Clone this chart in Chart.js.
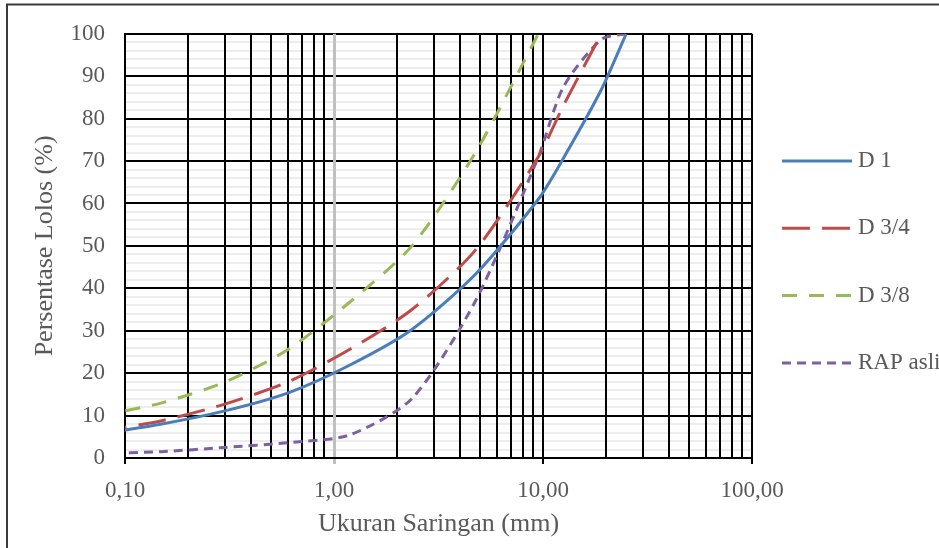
<!DOCTYPE html>
<html>
<head>
<meta charset="utf-8">
<script src="https://cdn.jsdelivr.net/npm/chart.js@4.4.0/dist/chart.umd.min.js"></script>
<style>
  html, body { margin: 0; padding: 0; background: #fff; }
</style>
</head>
<body>
<canvas id="myChart" width="939" height="548"></canvas>
<script>
// sieve sizes (mm) and percent passing for each mix
var sieves = [0.075, 0.15, 0.3, 0.6, 1.18, 2.36, 4.75, 9.5, 12.5, 19, 25];
var d1    = [5.6, 8.0, 11.1, 15.3, 21.8, 30.3, 43.3, 61.0, 70.6, 86.8, 100];
var d34   = [6.2, 8.8, 12.7, 17.9, 25.5, 35.0, 49.0, 71.0, 83.0, 100, null];
var d38   = [9.9, 13.0, 17.9, 25.5, 36.6, 50.0, 72.0, 100, null, null, null];
var rap   = [1.0, 1.5, 2.5, 3.6, 5.4, 14.0, 37.0, 71.0, 87.4, 98.7, 100];

var seriesNames = ["D 1", "D 3/4", "D 3/8", "RAP asli"];
var xTickValues = [0.1, 1, 10, 100];
var xTickLabels = ["0,10", "1,00", "10,00", "100,00"];
var yTickLabels = [0, 10, 20, 30, 40, 50, 60, 70, 80, 90, 100];

var serif = '"Liberation Serif", "Times New Roman", serif';
var textColor = "#595959";

function points(values) {
  var pts = [];
  for (var i = 0; i < sieves.length; i++) {
    if (values[i] !== null) pts.push({x: sieves[i], y: values[i]});
  }
  return pts;
}

function isDecade(v) {
  for (var i = 0; i < xTickValues.length; i++) {
    if (Math.abs(v - xTickValues[i]) < 1e-9) return true;
  }
  return false;
}

var frame = {
  id: "frame",
  afterDraw: function(chart) {
    var ctx = chart.ctx;
    ctx.save();
    ctx.strokeStyle = "#3a3a3a";
    ctx.lineWidth = 2;
    ctx.beginPath();
    ctx.moveTo(7, chart.height + 5);
    ctx.lineTo(7, 4.5);
    ctx.lineTo(chart.width + 5, 4.5);
    ctx.stroke();
    ctx.restore();
  }
};

var sideLegend = {
  id: "sideLegend",
  afterDraw: function(chart) {
    var ctx = chart.ctx;
    ctx.save();
    chart.data.datasets.forEach(function(ds, i) {
      var y = 161 + i * 67.3;
      ctx.strokeStyle = ds.borderColor;
      ctx.lineWidth = 3;
      ctx.lineCap = "butt";
      ctx.setLineDash(ds.borderDash || []);
      ctx.beginPath();
      ctx.moveTo(782, y);
      ctx.lineTo(852, y);
      ctx.stroke();
      ctx.setLineDash([]);
      ctx.fillStyle = textColor;
      ctx.font = "23px " + serif;
      ctx.textBaseline = "middle";
      ctx.textAlign = "left";
      ctx.fillText(ds.label, 858, y);
    });
    ctx.restore();
  }
};

new Chart("myChart", {
  type: "line",
  data: {
    datasets: [
      { label: seriesNames[0], data: points(d1), borderColor: "#4a7ebb", borderWidth: 3 },
      { label: seriesNames[1], data: points(d34), borderColor: "#be4b48", borderWidth: 3, borderDash: [28, 12] },
      { label: seriesNames[2], data: points(d38), borderColor: "#98b954", borderWidth: 3, borderDash: [15, 12] },
      { label: seriesNames[3], data: points(rap), borderColor: "#7d60a0", borderWidth: 3, borderDash: [9, 6] }
    ]
  },
  options: {
    responsive: false,
    animation: false,
    devicePixelRatio: 1,
    layout: { padding: { left: 0, top: 31, right: 187, bottom: 0 } },
    elements: { point: { radius: 0 }, line: { tension: 0.25 } },
    plugins: { legend: { display: false }, tooltip: { enabled: false } },
    scales: {
      x: {
        type: "logarithmic",
        min: 0.1,
        max: 100,
        afterBuildTicks: function(scale) {
          var t = [];
          for (var d = 0; d < xTickValues.length - 1; d++) {
            for (var i = 1; i < 10; i++) t.push({ value: xTickValues[d] * i });
          }
          t.push({ value: xTickValues[xTickValues.length - 1] });
          scale.ticks = t;
        },
        afterFit: function(scale) { scale.height = 90; },
        ticks: {
          autoSkip: false,
          maxRotation: 0,
          padding: 13,
          color: textColor,
          font: { family: serif, size: 23 },
          callback: function(value) {
            for (var i = 0; i < xTickValues.length; i++) {
              if (Math.abs(value - xTickValues[i]) < 1e-9) return xTickLabels[i];
            }
            return "";
          }
        },
        grid: {
          z: -1,
          color: function(c) { return c.tick && Math.abs(c.tick.value - 1) < 1e-9 ? "#c0c0c0" : "#000"; },
          lineWidth: function(c) { return c.tick && Math.abs(c.tick.value - 1) < 1e-9 ? 3 : 2; },
          tickLength: 6,
          tickColor: function(c) {
            if (!c.tick || !isDecade(c.tick.value)) return "rgba(0,0,0,0)";
            return Math.abs(c.tick.value - 1) < 1e-9 ? "#c0c0c0" : "#000";
          }
        },
        border: { color: "#000", width: 2 },
        title: {
          display: true,
          text: "Ukuran Saringan (mm)",
          color: textColor,
          font: { family: serif, size: 26 },
          padding: { top: 0, bottom: 8 }
        }
      },
      y: {
        min: 0,
        max: 100,
        afterFit: function(scale) { scale.width = 125; },
        ticks: {
          stepSize: 2,
          autoSkip: false,
          padding: 20,
          color: textColor,
          font: { family: serif, size: 23 },
          callback: function(value) {
            return yTickLabels.indexOf(value) >= 0 ? String(value) : "";
          }
        },
        grid: {
          z: -2,
          drawTicks: false,
          color: function(c) { return c.tick && c.tick.value % 10 === 0 ? "#000" : "#ededed"; },
          lineWidth: 2
        },
        border: { color: "#000", width: 2 },
        title: {
          display: true,
          text: "Persentase Lolos (%)",
          color: textColor,
          font: { family: serif, size: 26 },
          padding: { top: 30, bottom: 0 }
        }
      }
    }
  },
  plugins: [frame, sideLegend]
});
</script>
</body>
</html>
